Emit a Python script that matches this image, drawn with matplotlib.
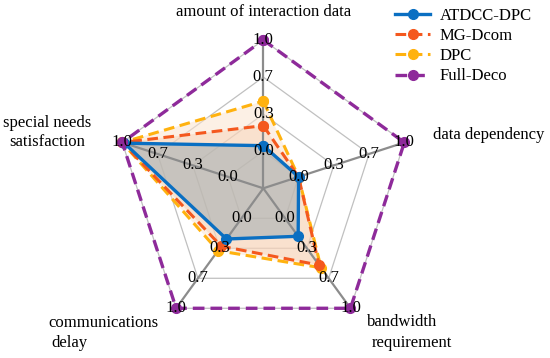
import numpy as np
import matplotlib
matplotlib.use('Agg')
import matplotlib.pyplot as plt

plt.rcParams['font.family'] = ['Liberation Serif', 'DejaVu Serif']

# data
categories = ['amount of interaction data', 'data dependency', 'bandwidth requirement',
              'communications delay', 'special needs satisfaction']
atdcc = [0.05, 0.0, 0.20, 0.23, 0.98]
mgdcom = [0.23, 0.0, 0.52, 0.31, 1.0]
dpc = [0.45, 0.0, 0.55, 0.36, 1.0]
full = [1.0, 1.0, 1.0, 1.0, 1.0]
series_names = ['ATDCC-DPC', 'MG-Dcom', 'DPC', 'Full-Deco']
tick_vals = [0.0, 1 / 3, 2 / 3, 1.0]
tick_labels = ['0.0', '0.3', '0.7', '1.0']

W, H = 550, 358
fig = plt.figure(figsize=(W / 100, H / 100), dpi=100)

# polar axes centred at (263.3, 188.3) px, radius 148 px
cx, cy, R = 263.3, 188.3, 148.3
ax = fig.add_axes([(cx - R) / W, (H - cy - R) / H, 2 * R / W, 2 * R / H], projection='polar')
ax.set_theta_offset(np.pi / 2)
ax.set_theta_direction(-1)
ax.set_ylim(-1 / 3, 1)
ax.grid(False)
ax.set_xticks([])
ax.set_yticks([])
ax.spines['polar'].set_visible(False)
ax.patch.set_alpha(0)

n = len(categories)
angles = np.linspace(0, 2 * np.pi, n, endpoint=False)
closed = np.concatenate([angles, angles[:1]])

def close(v):
    return list(v) + [v[0]]

# pentagon grid
for t in tick_vals:
    ax.plot(closed, [t] * (n + 1), color='#c0c0c0', lw=0.9, zorder=1)

# fills
ax.fill(closed, close(dpc), color='#fbe4d0', alpha=0.55, lw=0, zorder=2)
ax.fill(closed, close(mgdcom), color='#f6c6a4', alpha=0.35, lw=0, zorder=2)
ax.fill(closed, close(atdcc), color='#96a7af', alpha=0.5, lw=0, zorder=2)

# spokes
for a in angles:
    ax.plot([a, a], [-1 / 3, 1], color='#8c8c8c', lw=1.6, zorder=3)

# tick labels on every spoke
for a in angles:
    for t, lab in zip(tick_vals, tick_labels):
        ax.text(a, t, lab, ha='center', va='center', fontsize=12, zorder=6)

ax.plot(closed, close(full), color='#8e2a9a', lw=2.4, ls=(0, (3.5, 1.8)),
        marker='o', ms=7, zorder=5, clip_on=False, label=series_names[3])
ax.plot(closed, close(dpc), color='#ffb20f', lw=2.2, ls=(0, (3.5, 1.8)),
        marker='o', ms=7, zorder=4, clip_on=False, label=series_names[2])
ax.plot(closed, close(mgdcom), color='#f4581e', lw=2.2, ls=(0, (3.5, 1.8)),
        marker='o', ms=7, zorder=4, clip_on=False, label=series_names[1])
ax.plot(closed, close(atdcc), color='#0a6fc2', lw=2.4, ls='-',
        marker='o', ms=7, zorder=4, clip_on=False, label=series_names[0])

handles, labels = ax.get_legend_handles_labels()
order = [3, 2, 1, 0]
fig.legend([handles[i] for i in order], [labels[i] for i in order],
           loc='upper left', bbox_to_anchor=(395 / W, 1 - 8 / H), frameon=False,
           fontsize=12, handlelength=2.1, handletextpad=0.6, labelspacing=0.25,
           borderpad=0, borderaxespad=0)

# category labels
def ftext(x, y, s, ha='left'):
    fig.text(x / W, 1 - y / H, s, ha=ha, va='center', fontsize=12)

ftext(263.5, 12, categories[0], ha='center')
ftext(433, 135, categories[1])
ftext(367, 322, 'bandwidth')
ftext(372, 343, 'requirement')
ftext(48, 323, 'communications')
ftext(51, 343, 'delay')
ftext(47, 123, 'special needs', ha='center')
ftext(47, 142, 'satisfaction', ha='center')

fig.savefig('out.png', dpi=100)
